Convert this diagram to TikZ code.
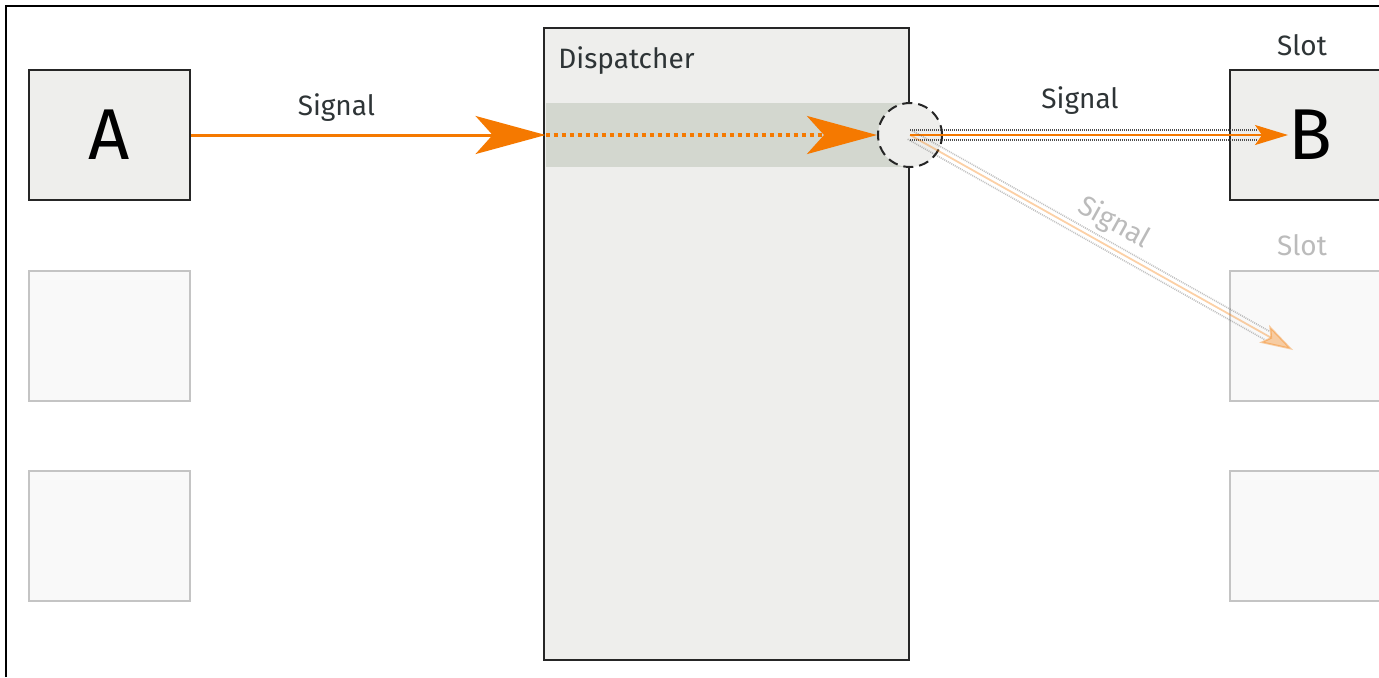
\documentclass[tikz,border=0pt]{standalone}
\usepackage{fontspec}
\setmainfont{Fira Sans}
\usetikzlibrary{arrows.meta,positioning,calc}
\definecolor{sigorange}{HTML}{F57900}
\definecolor{alu}{HTML}{EEEEEC}
\definecolor{aluband}{HTML}{D3D7CF}
\definecolor{ghostfill}{HTML}{F9F9F9}
\definecolor{ghostline}{HTML}{C4C4C4}
\definecolor{inkgray}{HTML}{2E3436}
\definecolor{fadegray}{HTML}{BBBBBB}
% signal wire: two dotted rails round an orange core
\newcommand{\sigwire}[2]{%
    \draw[rail] ($(#1)!2.4pt!90:(#2)$) -- ($(#2)!2.4pt!-90:(#1)$);
    \draw[rail] ($(#1)!2.4pt!-90:(#2)$) -- ($(#2)!2.4pt!90:(#1)$);
    \draw[core] (#1) -- (#2);%
}

\begin{document}
\begin{tikzpicture}[x=0.5pt,y=-0.5pt,
    objbox/.style={draw=black!85,fill=alu,line width=1pt,minimum width=80.5pt,minimum height=65pt,inner sep=0pt,font=\fontsize{36}{36}\selectfont},
    ghostbox/.style={draw=ghostline,fill=ghostfill,line width=1pt,minimum width=80.5pt,minimum height=65pt,inner sep=0pt},
    lbl/.style={text=inkgray,font=\fontsize{14}{14}\selectfont,inner sep=0pt},
    bighead/.style={-{Stealth[length=35pt,width=19pt,inset=8.5pt]}},
    smallhead/.style={-{Stealth[length=16.5pt,width=10pt,inset=3.5pt]}},
    rail/.style={draw=black!70,line width=0.8pt,dash pattern=on 0.5pt off 0.5pt,shorten >=15pt},
    core/.style={sigorange,line width=0.9pt,smallhead}]
    \useasboundingbox (0,0) rectangle (1379,677);
    \draw[line width=1.2pt] (6,677) -- (6,6) -- (1379,6);
    % senders and slots
    \node[objbox] (A) at (109.5,135) {A};
    \node[ghostbox] (A2) at (109.5,335.5) {};
    \node[ghostbox] (A3) at (109.5,536) {};
    \node[objbox] (B) at (1310.5,135) {B};
    \node[ghostbox] (C2) at (1310.5,335.5) {};
    \node[ghostbox] (C3) at (1310.5,536) {};
    \node[lbl,anchor=base] at (1302,55) {Slot};
    \node[lbl,anchor=base,text=fadegray] at (1302,255) {Slot};
    % dispatcher
    \node[draw=black!85,fill=alu,line width=1pt,minimum width=182.5pt,minimum height=316pt] (disp) at (726.5,344) {};
    \node[fill=aluband,minimum width=180.5pt,minimum height=32pt,inner sep=0pt] (band) at (726.5,135) {};
    \node[lbl,anchor=base west] at (558,68) {Dispatcher};
    \node[circle,draw=black!85,fill=alu,line width=1pt,dash pattern=on 5pt off 3pt,minimum size=32pt,inner sep=0pt] (hub) at (disp.east |- band) {};
    % signals
    \draw[sigorange,line width=1.5pt,bighead] (A.east) -- node[lbl,pos=0.41,anchor=base,yshift=10pt] {Signal} (band.west);
    \draw[sigorange,line width=2pt,dash pattern=on 2pt off 2pt,bighead] (band.west) -- (hub.west);
    \coordinate (btip) at (1288,135);
    \coordinate (ctip) at (1293,350);
    \sigwire{hub.center}{btip}
    \node[lbl,anchor=base] at (1080,108) {Signal};
    \begin{scope}[opacity=0.35]
        \sigwire{hub.center}{ctip}
    \end{scope}
    \node[lbl,text=fadegray,rotate=-29] at (1114,223) {Signal};
\end{tikzpicture}
\end{document}
